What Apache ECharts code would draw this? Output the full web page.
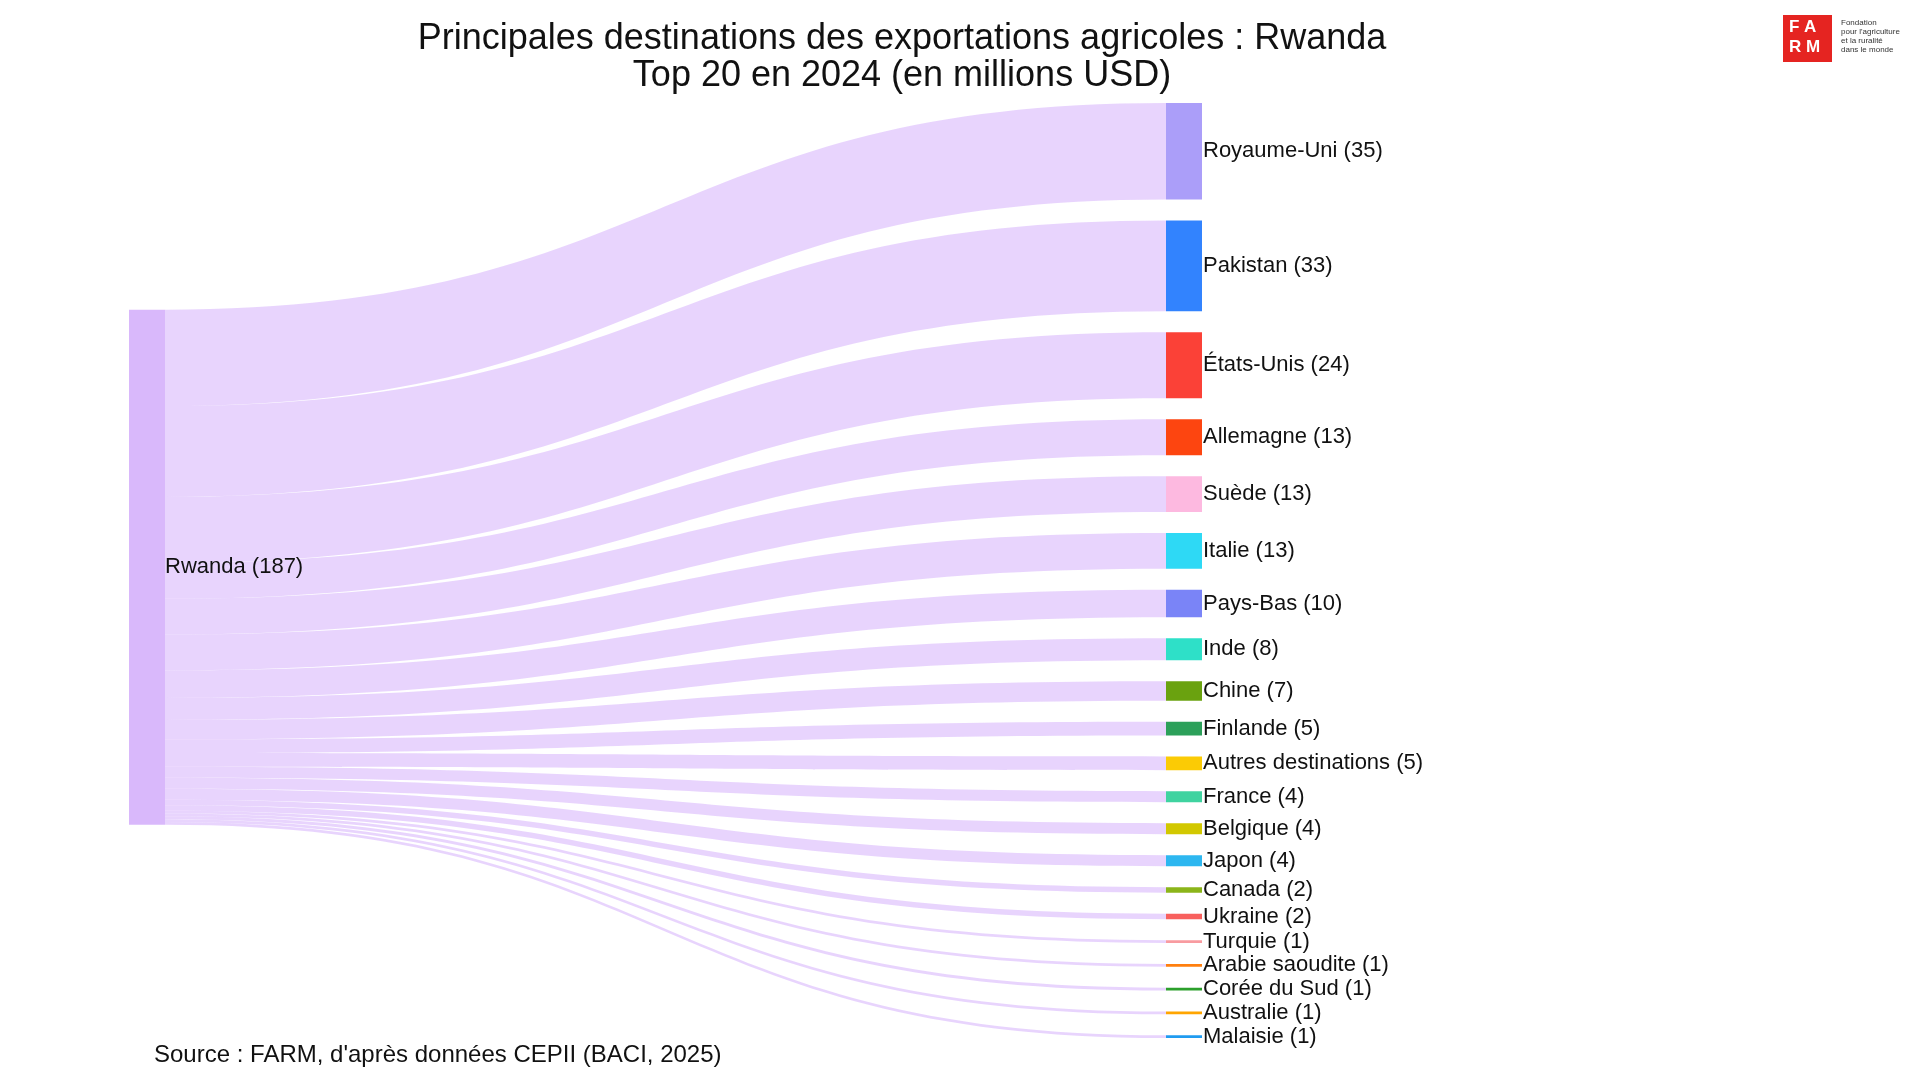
<!DOCTYPE html>
<html><head><meta charset="utf-8">
<script src="https://cdn.jsdelivr.net/npm/echarts@6/dist/echarts.min.js"></script>
<style>html,body{margin:0;padding:0;background:#fff}#main{width:1920px;height:1080px}</style>
</head><body><div id="main"></div>
<script>
var source = 'Rwanda';
var destinations = ['Royaume-Uni', 'Pakistan', 'États-Unis', 'Allemagne', 'Suède', 'Italie', 'Pays-Bas', 'Inde', 'Chine', 'Finlande',
  'Autres destinations', 'France', 'Belgique', 'Japon', 'Canada', 'Ukraine', 'Turquie', 'Arabie saoudite', 'Corée du Sud', 'Australie', 'Malaisie'];
var values = [35, 33, 24, 13, 13, 13, 10, 8, 7, 5, 5, 4, 4, 4, 2, 2, 1, 1, 1, 1, 1];
var colors = ['#ab9ef9', '#3283fe', '#fb4137', '#fd4510', '#fdb9e0', '#2ed9f5', '#7a84f7', '#2ee0c8', '#6aa20f', '#2ca05a',
  '#fbcb05', '#3fd3a0', '#d2c800', '#2db7f0', '#8bb51a', '#f8605e', '#f89ba0', '#ff7f0e', '#2ca02c', '#ffa500', '#1f9bf0'];

var chart = echarts.init(document.getElementById('main'));
var total = values.reduce(function (a, b) { return a + b; }, 0);

// source node sits mid-height, as in the reference
var nodes = [{ name: source, itemStyle: { color: '#d9b8fb' }, value: total, localX: 0, localY: 0.221 }];
destinations.forEach(function (d, i) {
  nodes.push({ name: d, itemStyle: { color: colors[i] } });
});
var links = destinations.map(function (d, i) {
  return { source: source, target: d, value: values[i] };
});

chart.setOption({
  title: {
    text: 'Principales destinations des exportations agricoles : Rwanda\nTop 20 en 2024 (en millions USD)',
    left: 897, top: 16, textAlign: 'center',
    textStyle: { fontFamily: 'Arial, Liberation Sans', fontWeight: 'normal', fontSize: 36, lineHeight: 37, color: '#111' }
  },
  graphic: [
    { type: 'rect', left: 1783, top: 15, shape: { width: 49, height: 47 }, style: { fill: '#e52421' } },
    { type: 'text', left: 1789, top: 17, style: { text: 'F A\nR M', fill: '#fff', font: 'bold 17px Arial', lineHeight: 20 } },
    { type: 'text', left: 1841, top: 18, style: { text: 'Fondation\npour l\'agriculture\net la ruralité\ndans le monde', fill: '#333', font: '8px Arial', lineHeight: 9 } },
    { type: 'text', left: 154, top: 1043, style: { text: "Source : FARM, d'après données CEPII (BACI, 2025)", fill: '#111', font: '24px Arial, Liberation Sans' } }
  ],
  series: [{
    type: 'sankey',
    left: 129, right: 718, top: 103, bottom: 42,
    nodeWidth: 36, nodeGap: 21,
    layoutIterations: 0,
    draggable: false,
    data: nodes, links: links,
    lineStyle: { color: '#d9b8fb', opacity: 0.6, curveness: 0.5 },
    itemStyle: { borderWidth: 0 },
    emphasis: { disabled: true },
    label: {
      position: 'right', distance: 1, color: '#111', fontSize: 22, fontFamily: 'Arial, Liberation Sans',
      formatter: function (p) { return p.name + ' (' + p.value + ')'; }
    },
    levels: [{ depth: 0, label: { position: 'insideLeft', distance: 36 } }]
  }]
});
</script></body></html>
